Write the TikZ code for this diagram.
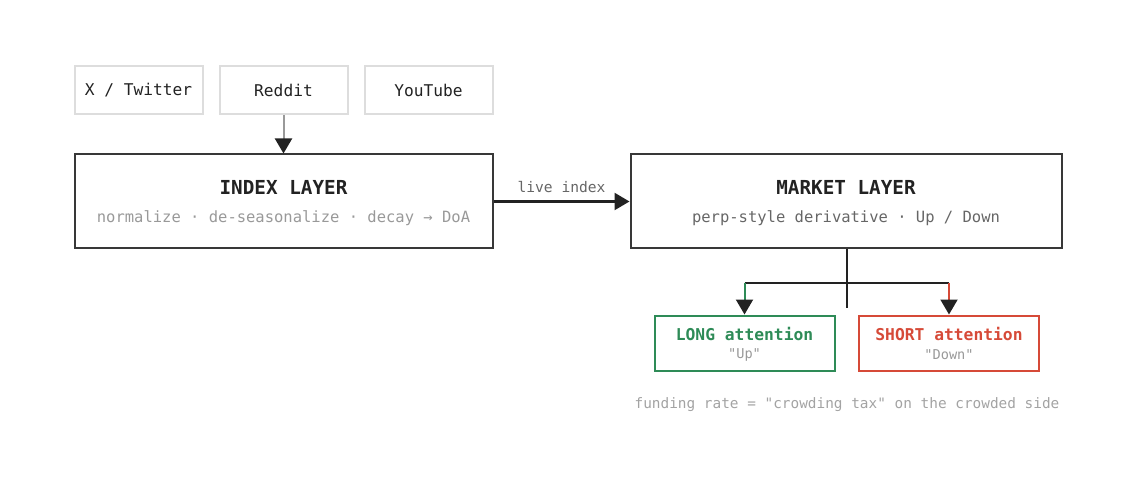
\documentclass[tikz,border=0pt]{standalone}
\usepackage{fontspec}
\setmonofont{DejaVu Sans Mono}
\usepackage{tikz}
\usetikzlibrary{arrows.meta}
\definecolor{inkdark}{HTML}{222222}
\definecolor{srcline}{HTML}{DDDDDD}
\definecolor{longgreen}{HTML}{2E8B57}
\definecolor{shortred}{HTML}{D64A38}
\definecolor{subgray}{HTML}{999999}
\definecolor{midgray}{HTML}{666666}

\begin{document}
\begin{tikzpicture}[x=1pt,y=-1pt,
  src/.style={draw=srcline,line width=2pt,minimum width=128pt,minimum height=48pt,
    font=\ttfamily\fontsize{16.2}{19}\selectfont,text=inkdark},
  layer/.style={draw=inkdark!90,line width=2pt,minimum width=418pt,minimum height=94pt},
  side/.style={line width=2pt,minimum width=180pt,minimum height=55pt},
  ttl/.style={font=\ttfamily\bfseries\fontsize{19.3}{22}\selectfont,text=inkdark},
  sub/.style={font=\ttfamily\fontsize{15.5}{18}\selectfont},
  tip/.style={-{Triangle[width=17pt,length=15pt,color=inkdark]}}]
  \useasboundingbox (0,0) rectangle (1148,478);
  % sources
  \node[src] (twitter) at (138.5,90.5) {X / Twitter};
  \node[src] (reddit) at (283.5,90.5) {Reddit};
  \node[src] (youtube) at (428.5,90.5) {YouTube};
  % layers
  \node[layer] (index) at (283.5,201.5) {};
  \node[ttl] at (283.5,187) {INDEX LAYER};
  \node[sub,text=subgray] at (283.5,218) {normalize · de-seasonalize · decay → DoA};
  \node[layer,minimum width=431pt] (market) at (846,201.5) {};
  \node[ttl] at (846,187) {MARKET LAYER};
  \node[sub,text=midgray] at (846,218) {perp-style derivative · Up / Down};
  % sides
  \node[side,draw=longgreen] (long) at (744.5,343) {};
  \node[font=\ttfamily\bfseries\fontsize{16.3}{19}\selectfont,text=longgreen] at (744.5,334) {LONG attention};
  \node[font=\ttfamily\fontsize{13.6}{16}\selectfont,text=subgray] at (744.5,355) {"Up"};
  \node[side,draw=shortred] (short) at (949,343) {};
  \node[font=\ttfamily\bfseries\fontsize{16.3}{19}\selectfont,text=shortred] at (949,334) {SHORT attention};
  \node[font=\ttfamily\fontsize{13.6}{16}\selectfont,text=subgray] at (949,355) {"Down"};
  \node[font=\ttfamily\fontsize{14.4}{17}\selectfont,text=subgray!90] (note) at (847,405)
    {funding rate = "crowding tax" on the crowded side};
  % connectors
  \coordinate (split) at (847,283);
  \coordinate (stub) at (847,308);
  \coordinate (lcorner) at (744.5,283);
  \coordinate (rcorner) at (949,283);
  \draw[tip,draw=subgray,line width=2pt] (reddit.south) -- (index.north -| reddit.south);
  \draw[tip,draw=inkdark,line width=2.4pt] (index.east) -- (market.west)
    node[midway,above=4pt,font=\ttfamily\fontsize{14.6}{17}\selectfont,text=midgray] {live index};
  \draw[inkdark,line width=2pt] (market.south -| split) -- (stub);
  \draw[inkdark,line width=2pt] (lcorner) -- (rcorner);
  \draw[tip,draw=longgreen,line width=2pt] (lcorner) -- (long.north);
  \draw[tip,draw=shortred,line width=2pt] (rcorner) -- (short.north);
\end{tikzpicture}
\end{document}
